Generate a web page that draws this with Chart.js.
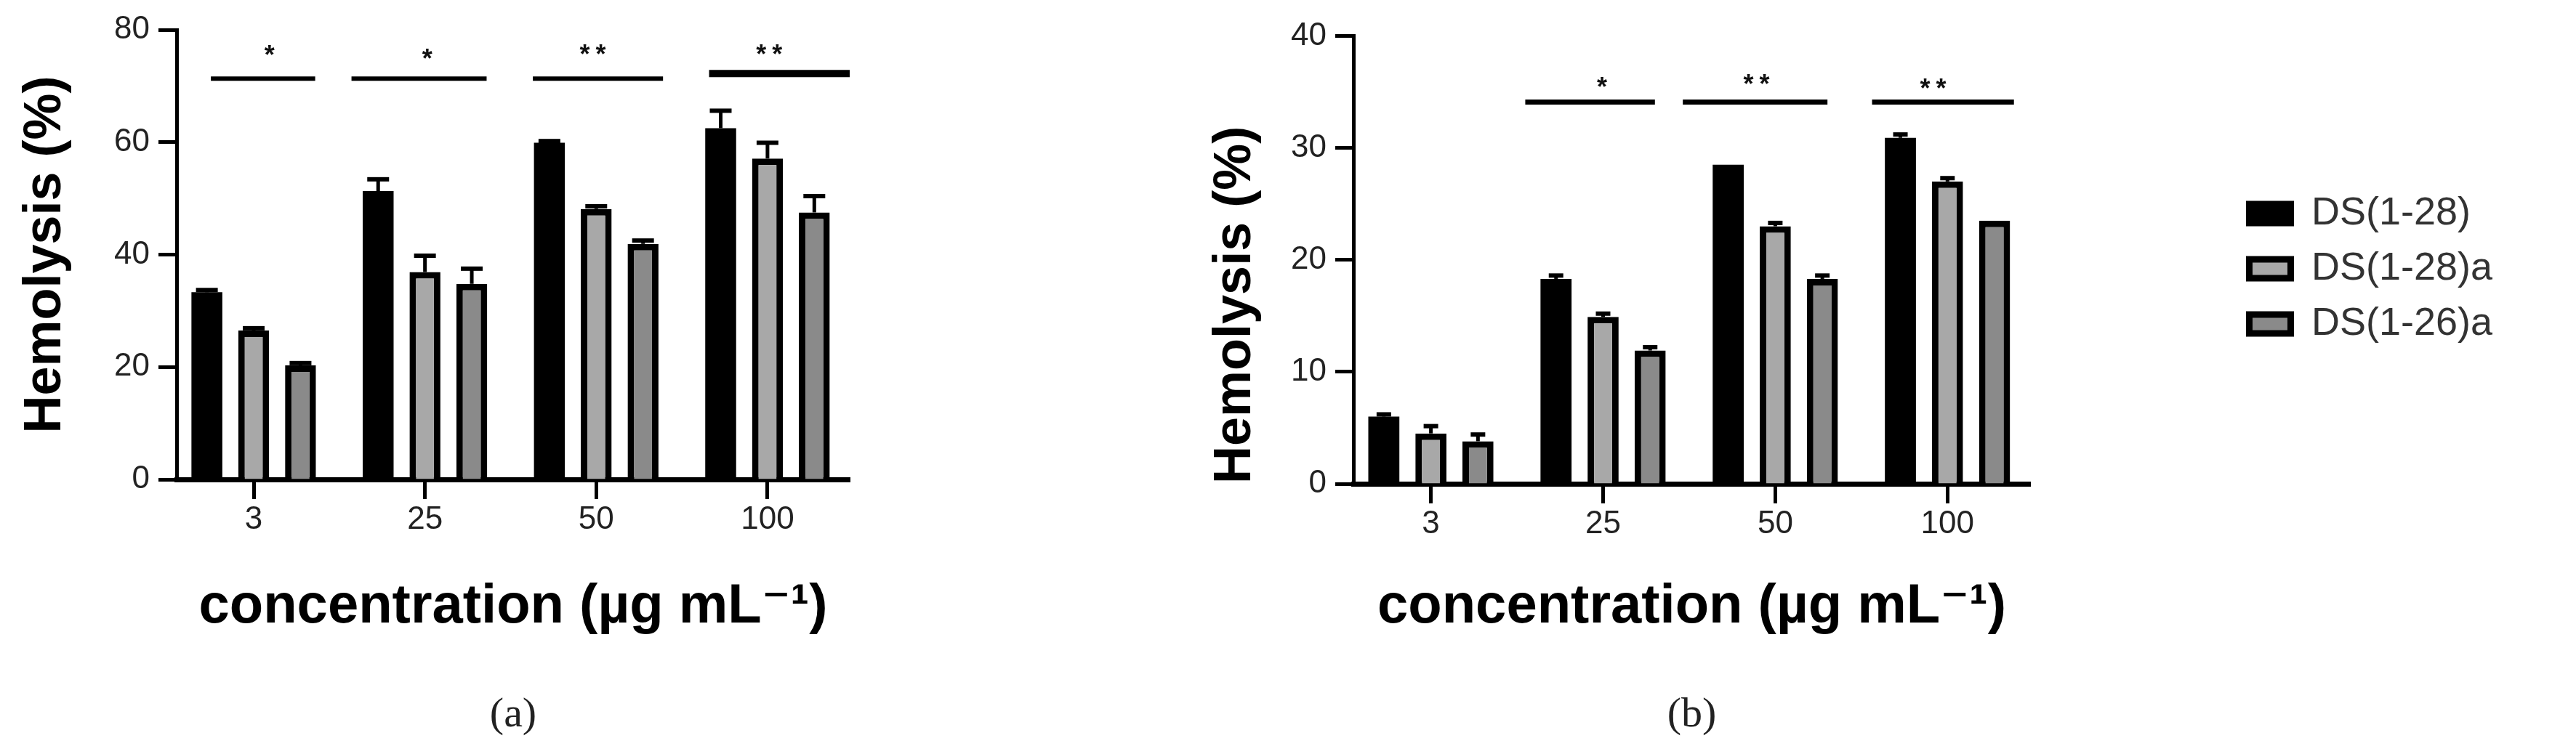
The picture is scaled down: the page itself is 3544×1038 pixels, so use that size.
<!DOCTYPE html>
<html><head><meta charset="utf-8">
<script src="https://cdn.jsdelivr.net/npm/chart.js@4.4.1/dist/chart.umd.min.js"></script>
<style>
html,body{margin:0;padding:0;background:#fff;}
#wrap{position:relative;width:3544px;height:1038px;overflow:hidden;background:#fff;}
.box{position:absolute;top:0;}
</style></head><body>
<div id="wrap">
<div class="box" style="left:0;width:1400px;height:1038px"><canvas id="ca" width="1400" height="1038"></canvas></div>
<div class="box" style="left:1600px;width:1944px;height:1038px"><canvas id="cb" width="1944" height="1038"></canvas></div>
</div>
<script>
// ---------- data ----------
const categories = ['3', '25', '50', '100'];
const seriesNames = ['DS(1-28)', 'DS(1-28)a', 'DS(1-26)a'];

// panel (a)
const a_ds128  = [33.3, 51.3, 59.9, 62.5];
const a_ds128a = [26.5, 36.9, 48.1, 57.1];
const a_ds126a = [20.3, 34.8, 41.9, 47.5];
const a_err_ds128  = [0.4, 2.1, 0.3, 3.1];
const a_err_ds128a = [0.4, 2.9, 0.5, 2.8];
const a_err_ds126a = [0.4, 2.7, 0.6, 2.9];
const a_yTicks = [0, 20, 40, 60, 80];
// significance marks (a): category-unit extents, % level, label, label position
const a_sigStart = [-0.25, 0.571, 1.63, 2.659];
const a_sigEnd   = [0.359, 1.36, 2.39, 3.48];
const a_sigLevel = [71.3, 71.3, 71.3, 72.2];
const a_sigLabel = ['*', '*', '**', '**'];
const a_starX = [0.092, 1.013, 1.98, 3.01];
const a_starY = [76.2, 75.6, 76.4, 76.4];

// panel (b)
const b_ds128  = [6.0, 18.3, 28.5, 30.9];
const b_ds128a = [4.5, 14.9, 23.0, 27.0];
const b_ds126a = [3.8, 11.9, 18.3, 23.5];
const b_err_ds128  = [0.2, 0.3, 0.0, 0.3];
const b_err_ds128a = [0.65, 0.3, 0.3, 0.3];
const b_err_ds126a = [0.6, 0.3, 0.3, 0.0];
const b_yTicks = [0, 10, 20, 30, 40];
const b_sigStart = [0.548, 1.463, 2.562];
const b_sigEnd   = [1.301, 2.303, 3.386];
const b_sigLevel = [34.1, 34.1, 34.1];
const b_sigLabel = ['*', '**', '**'];
const b_starX = [0.994, 1.891, 2.916];
const b_starY = [35.8, 36.1, 35.7];

// ---------- styles ----------
const FONT = "'Liberation Sans', Arial, 'DejaVu Sans', sans-serif";
const fills = ['#000000', '#a8a8a8', '#8a8a8a'];
const borders = [0, 9, 9];

// ---------- plugins ----------
const errorBars = {
  id: 'errorBars',
  afterDatasetsDraw(chart, args, o) {
    const ctx = chart.ctx, ys = chart.scales.y;
    chart.data.datasets.forEach((ds, di) => {
      const meta = chart.getDatasetMeta(di);
      meta.data.forEach((bar, i) => {
        const e = ds.errors[i];
        if (!e) return;
        const top = ys.getPixelForValue(ds.data[i].y + e);
        ctx.save();
        ctx.strokeStyle = '#000';
        ctx.lineWidth = o.lineWidth;
        ctx.beginPath();
        ctx.moveTo(bar.x, bar.y);
        ctx.lineTo(bar.x, top);
        ctx.stroke();
        ctx.lineWidth = o.capThickness;
        ctx.beginPath();
        ctx.moveTo(bar.x - o.capWidth / 2, top);
        ctx.lineTo(bar.x + o.capWidth / 2, top);
        ctx.stroke();
        ctx.restore();
      });
    });
  }
};

const sigMarks = {
  id: 'sigMarks',
  afterDatasetsDraw(chart, args, o) {
    const ctx = chart.ctx, xs = chart.scales.x, ys = chart.scales.y;
    o.start.forEach((s, i) => {
      const yy = ys.getPixelForValue(o.level[i]);
      ctx.save();
      ctx.strokeStyle = '#000';
      ctx.lineWidth = o.lineWidths[i];
      ctx.beginPath();
      ctx.moveTo(xs.getPixelForValue(s), yy);
      ctx.lineTo(xs.getPixelForValue(o.end[i]), yy);
      ctx.stroke();
      ctx.fillStyle = '#111';
      ctx.font = 'bold ' + o.starSize + 'px ' + FONT;
      ctx.textAlign = 'center';
      ctx.textBaseline = 'middle';
      const lab = o.label[i];
      const cx = xs.getPixelForValue(o.starX[i]);
      const cy = ys.getPixelForValue(o.starY[i]) + o.starSize * 0.225;
      for (let k = 0; k < lab.length; k++) {
        ctx.fillText(lab[k], cx + (k - (lab.length - 1) / 2) * o.starGap, cy);
      }
      ctx.restore();
    });
  }
};

const sideLegend = {
  id: 'sideLegend',
  afterDraw(chart, args, o) {
    if (!o.display) return;
    const ctx = chart.ctx;
    const x0 = chart.chartArea.right + o.offsetX;
    chart.data.datasets.forEach((ds, i) => {
      const cy = o.top + i * o.rowGap;
      ctx.save();
      ctx.fillStyle = '#000';
      ctx.fillRect(x0, cy - o.boxH / 2, o.boxW, o.boxH);
      if (ds.borderWidth) {
        const b = o.boxBorder;
        ctx.fillStyle = ds.backgroundColor;
        ctx.fillRect(x0 + b, cy - o.boxH / 2 + b, o.boxW - 2 * b, o.boxH - 2 * b);
      }
      ctx.fillStyle = '#333';
      ctx.font = o.fontSize + 'px ' + FONT;
      ctx.textAlign = 'left';
      ctx.textBaseline = 'middle';
      ctx.fillText(ds.label, x0 + o.boxW + o.textGap, cy);
      ctx.restore();
    });
  }
};

// ---------- builder ----------
function buildDatasets(vals, errs) {
  return seriesNames.map((name, k) => ({
    label: name,
    data: vals[k].map((v, i) => ({ x: i, y: v })),
    errors: errs[k],
    backgroundColor: fills[k],
    borderColor: '#000',
    borderWidth: borders[k],
    categoryPercentage: 0.82,
    barPercentage: 0.66
  }));
}

function makeChart(id, cfg) {
  return new Chart(document.getElementById(id), {
    type: 'bar',
    data: { datasets: buildDatasets(cfg.vals, cfg.errs) },
    plugins: [errorBars, sigMarks, sideLegend],
    options: {
      responsive: false,
      animation: false,
      devicePixelRatio: 1,
      layout: { padding: cfg.padding },
      scales: {
        x: {
          type: 'linear', min: -0.45, max: 3.48, offset: false, z: 1,
          afterBuildTicks: s => { s.ticks = categories.map((c, i) => ({ value: i })); },
          afterFit: s => { s.height = cfg.xHeight; },
          ticks: { callback: v => categories[v], font: { family: FONT, size: 44 }, color: '#222', padding: 2, maxRotation: 0, autoSkip: false },
          grid: { display: true, drawOnChartArea: false, drawTicks: true, tickLength: 27, tickWidth: 5, tickColor: '#000', offset: false },
          border: { display: true, color: '#000', width: 7 },
          title: { display: true, text: 'concentration (µg mL⁻¹)', color: '#000',
                   font: { family: FONT, size: 76, weight: 'bold' }, padding: { top: 0, bottom: 69 } }
        },
        y: {
          min: 0, max: cfg.yMax,
          afterBuildTicks: s => { s.ticks = cfg.yTicks.map(v => ({ value: v })); },
          afterFit: s => { s.width = cfg.yWidth; },
          ticks: { font: { family: FONT, size: 44 }, color: '#222', padding: 12 },
          grid: { display: true, drawOnChartArea: false, drawTicks: true, tickLength: 25, tickWidth: 5, tickColor: '#000' },
          border: { display: true, color: '#000', width: 5 },
          title: { display: true, text: 'Hemolysis (%)', color: '#000', align: cfg.yTitleAlign,
                   font: { family: FONT, size: 72, weight: 'bold' }, padding: { top: cfg.yTitlePad, bottom: 0 } }
        }
      },
      plugins: {
        legend: { display: false },
        tooltip: { enabled: false },
        title: { display: true, text: cfg.panel, position: 'bottom', fullSize: false, color: '#222',
                 font: { family: "'Liberation Serif', 'Times New Roman', serif", size: 58, weight: 'normal' },
                 padding: { top: 0, bottom: 0 } },
        errorBars: { lineWidth: 5, capThickness: 6, capWidth: cfg.capWidth },
        sigMarks: cfg.sig,
        sideLegend: cfg.legend
      }
    }
  });
}

makeChart('ca', {
  vals: [a_ds128, a_ds128a, a_ds126a],
  errs: [a_err_ds128, a_err_ds128a, a_err_ds126a],
  yMax: 80, yTicks: a_yTicks,
  padding: { left: 0, top: 41, right: 231, bottom: 18 },
  xHeight: 290.4, yWidth: 243, yTitleAlign: 'center', yTitlePad: 20,
  panel: '(a)', capWidth: 30,
  sig: { start: a_sigStart, end: a_sigEnd, level: a_sigLevel, label: a_sigLabel,
         starX: a_starX, starY: a_starY, lineWidths: [6, 6, 6, 10], starSize: 36, starGap: 22 },
  legend: { display: false }
});

makeChart('cb', {
  vals: [b_ds128, b_ds128a, b_ds126a],
  errs: [b_err_ds128, b_err_ds128a, b_err_ds126a],
  yMax: 40, yTicks: b_yTicks,
  padding: { left: 0, top: 49.5, right: 751, bottom: 18 },
  xHeight: 284.4, yWidth: 262, yTitleAlign: 'start', yTitlePad: 57,
  panel: '(b)', capWidth: 20,
  sig: { start: b_sigStart, end: b_sigEnd, level: b_sigLevel, label: b_sigLabel,
         starX: b_starX, starY: b_starY, lineWidths: [7, 7, 7], starSize: 36, starGap: 22 },
  legend: { display: true, offsetX: 297, top: 294, rowGap: 76, boxW: 66, boxH: 35, boxBorder: 9,
            fontSize: 54, textGap: 24 }
});
</script>
</body></html>
